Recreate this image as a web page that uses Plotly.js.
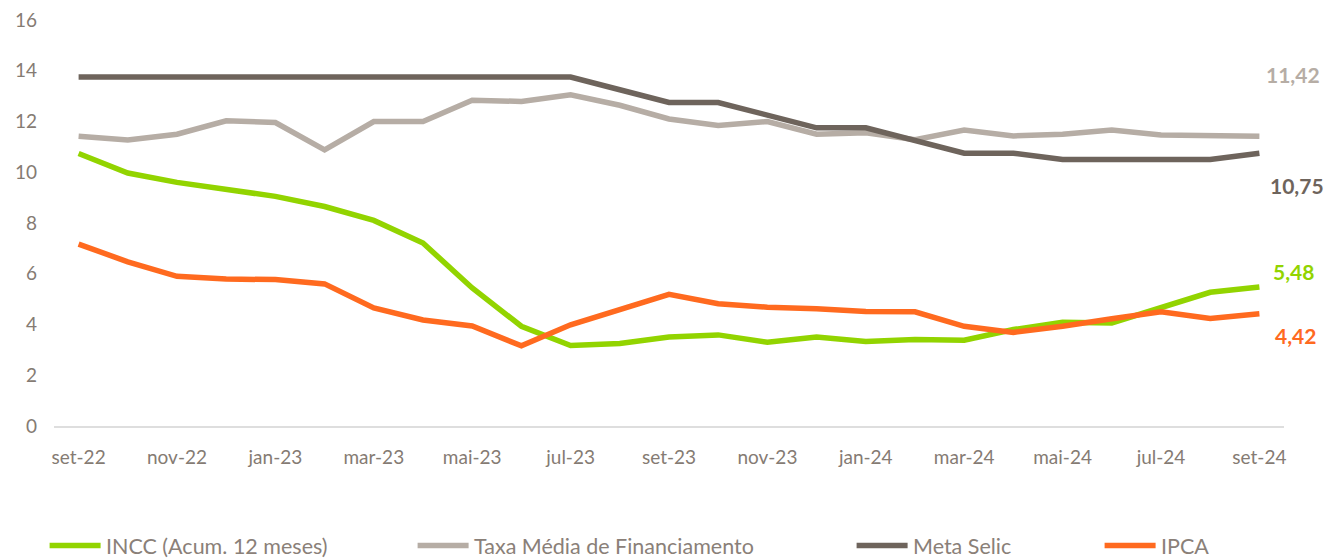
<!DOCTYPE html>
<html>
<head>
<meta charset="utf-8">
<script src="https://cdn.plot.ly/plotly-3.0.1.min.js"></script>
<style>html,body{margin:0;padding:0;background:#fff;}#chart{width:1342px;height:559px;}</style>
</head>
<body>
<div id="chart"></div>
<script>
const months = ["set-22","out-22","nov-22","dez-22","jan-23","fev-23","mar-23","abr-23","mai-23","jun-23","jul-23","ago-23",
  "set-23","out-23","nov-23","dez-23","jan-24","fev-24","mar-24","abr-24","mai-24","jun-24","jul-24","ago-24","set-24"];
const incc  = [10.74,9.97,9.60,9.31,9.05,8.65,8.10,7.21,5.44,3.93,3.17,3.25,3.51,3.59,3.30,3.51,3.33,3.41,3.38,3.80,4.09,4.06,4.69,5.27,5.48];
const taxa  = [11.42,11.27,11.50,12.03,11.96,10.88,12.00,12.00,12.84,12.79,13.05,12.64,12.10,11.84,12.00,11.50,11.56,11.28,11.66,11.43,11.50,11.66,11.47,11.47,11.42];
const selic = [13.75,13.75,13.75,13.75,13.75,13.75,13.75,13.75,13.75,13.75,13.75,13.25,12.75,12.75,12.25,11.75,11.75,11.25,10.75,10.75,10.50,10.50,10.50,10.50,10.75];
const ipca  = [7.17,6.47,5.90,5.79,5.77,5.60,4.65,4.18,3.94,3.16,3.99,4.61,5.19,4.82,4.68,4.62,4.51,4.50,3.93,3.69,3.93,4.23,4.50,4.24,4.42];
const seriesNames = ["INCC (Acum. 12 meses)","Taxa Média de Financiamento","Meta Selic","IPCA"];
const yTicks = [0,2,4,6,8,10,12,14,16];

const colors = ["#92d400","#b6ada5","#6e645c","#ff6a1f"];
const allSeries = [incc, taxa, selic, ipca];
const FONT = "Lato, Carlito, Calibri, sans-serif";

const traces = allSeries.map((s,i)=>({
  x: months, y: s, type:'scatter', mode:'lines', name: seriesNames[i],
  line:{color:colors[i], width:5.5, shape:'linear'}, showlegend:false, hoverinfo:'skip'
}));

// end labels (positions are styling)
const labelY = [6.08, 13.84, 9.47, 3.56];
const labelShift = [34, 34, 38, 36];
const fmt = v => v.toFixed(2).replace('.', ',');
const annotations = allSeries.map((s,i)=>({
  x: months[months.length-1], y: labelY[i], xref:'x', yref:'y',
  text: '<b>'+fmt(s[s.length-1])+'</b>', showarrow:false, xshift: labelShift[i],
  font:{family:FONT, size:21, color:colors[i]}
}));

// manual legend
const legX = [48, 416, 855, 1103];
const legY = 546;
const shapes = [];
seriesNames.forEach((n,i)=>{
  shapes.push({type:'line', xref:'paper', yref:'paper', xsizemode:'pixel', ysizemode:'pixel',
    xanchor:0, yanchor:0, x0:legX[i]-54.4+2, x1:legX[i]-54.4+53, y0:-(legY-426.5), y1:-(legY-426.5),
    line:{color:colors[i], width:5.5}});
  annotations.push({xref:'paper', yref:'paper', x:0, y:0, xshift:legX[i]-54.4+56, yshift:-(legY-426.5),
    xanchor:'left', yanchor:'middle', text:n, showarrow:false,
    font:{family:FONT, size:21.5, color:'#8a8078'}});
});

const layout = {
  width:1342, height:559,
  margin:{l:54.4, r:58.4, t:20, b:132.5},
  paper_bgcolor:'#fff', plot_bgcolor:'#fff',
  font:{family:FONT, color:'#857b73'},
  xaxis:{type:'category', range:[-0.5, months.length-0.5], showgrid:false, zeroline:false,
    showline:true, linecolor:'#dedede', linewidth:1.5, ticks:'', dtick:2,
    tickfont:{family:FONT, size:19, color:'#857b73'}, ticklabelstandoff:14},
  yaxis:{range:[0,16], tickvals:yTicks, showgrid:false, zeroline:false, showline:false, ticks:'',
    tickfont:{family:FONT, size:19, color:'#857b73'}, ticklabelstandoff:16},
  shapes: shapes,
  annotations: annotations,
  showlegend:false
};
Plotly.newPlot('chart', traces, layout, {displayModeBar:false, staticPlot:true});
</script>
</body>
</html>
